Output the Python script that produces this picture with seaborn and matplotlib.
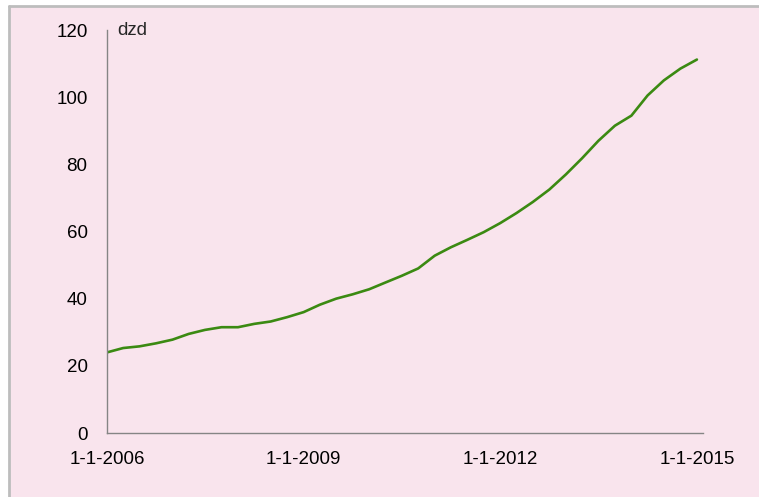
import pandas as pd
import matplotlib
matplotlib.use("Agg")
import matplotlib.pyplot as plt
from matplotlib.lines import Line2D
from matplotlib.patches import Rectangle
import seaborn as sns

# quarterly series, dzd
dates = pd.date_range("2006-01-01", "2015-01-01", freq="QS")
values = [
    24.0, 25.3, 25.8, 26.7, 27.8, 29.5, 30.7, 31.5,
    31.5, 32.5, 33.2, 34.5, 36.0, 38.2, 40.0, 41.3,
    42.8, 44.8, 46.8, 49.0, 52.8, 55.3, 57.5, 59.8,
    62.5, 65.5, 68.8, 72.5, 77.0, 81.8, 87.0, 91.5,
    94.5, 100.5, 105.0, 108.5, 111.2,
]
tick_dates = pd.to_datetime(["2006-01-01", "2009-01-01", "2012-01-01", "2015-01-01"])
tick_labels = ["1-1-2006", "1-1-2009", "1-1-2012", "1-1-2015"]
unit_label = "dzd"

df = pd.DataFrame({"date": dates, "value": values})

pink = "#f9e4ed"
sns.set_style("white", {"axes.facecolor": pink, "axes.edgecolor": "#858585"})
plt.rcParams["font.family"] = ["Liberation Sans", "DejaVu Sans"]

fig = plt.figure(figsize=(7.59, 4.97), dpi=100)
fig.patch.set_facecolor("white")

# pink panel with grey border on left/top (the crop cuts the rest)
x0, y1 = 8.5 / 759, 1 - 5.5 / 497
fig.patches.append(Rectangle((x0, 0), 1 - x0, y1, transform=fig.transFigure,
                             facecolor=pink, edgecolor="none", zorder=-2))
fig.lines.append(Line2D([x0, x0], [0, y1], transform=fig.transFigure,
                        color="#bdbdbd", lw=2, zorder=-1))
fig.lines.append(Line2D([x0, 1], [y1, y1], transform=fig.transFigure,
                        color="#bdbdbd", lw=2, zorder=-1))

ax = fig.add_axes([107 / 759, 1 - 433 / 497, (703 - 107) / 759, (433 - 30) / 497])
ax.set_facecolor(pink)

sns.lineplot(data=df, x="date", y="value", ax=ax, color="#3b8a12", linewidth=1.9)

ax.set_ylim(0, 120)
ax.set_yticks(range(0, 121, 20))
ax.set_xlim(pd.Timestamp("2006-01-01"), pd.Timestamp("2015-02-04"))
ax.set_xticks(tick_dates)
ax.set_xticklabels(tick_labels)
ax.set_xlabel("")
ax.set_ylabel("")

for side in ["top", "right"]:
    ax.spines[side].set_visible(False)
for side in ["left", "bottom"]:
    ax.spines[side].set_color("#858585")
    ax.spines[side].set_linewidth(1.0)

ax.tick_params(axis="both", which="major", direction="out", length=5,
               color="#a8a8a8", labelsize=13.5, labelcolor="black")
ax.tick_params(axis="y", pad=9)
ax.tick_params(axis="x", pad=8)

ax.text(0.018, 120, unit_label, transform=ax.get_yaxis_transform(),
        ha="left", va="center", fontsize=13.5)

fig.savefig("out.png", dpi=100, facecolor=fig.get_facecolor())
